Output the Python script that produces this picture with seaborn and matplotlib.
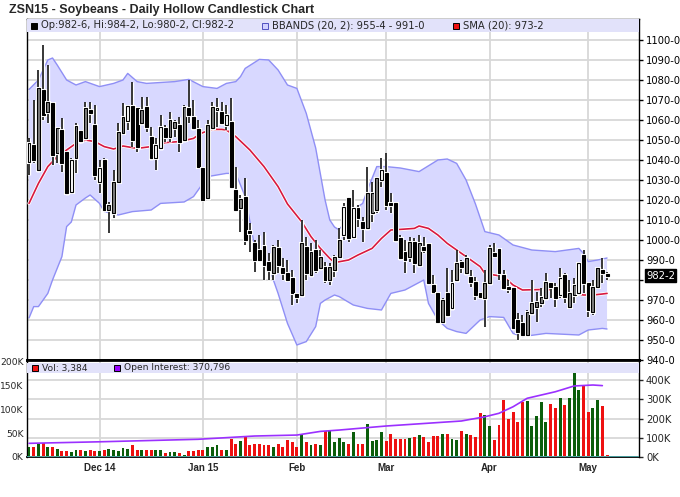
import numpy as np
import pandas as pd
import seaborn as sns
import matplotlib
matplotlib.use('Agg')
import matplotlib.pyplot as plt
import matplotlib.patheffects as pe
from matplotlib.patches import Rectangle

sns.set_style('white')
plt.rcParams['font.family'] = 'DejaVu Sans'

# trading days shown (Nov 7 2014 - May 7 2015)
holidays = ['2014-11-27', '2014-12-25', '2015-01-01', '2015-01-19', '2015-02-16', '2015-04-03']
days = pd.bdate_range('2014-11-07', '2015-05-07')
days = days[~days.isin(pd.to_datetime(holidays))]
month_labels = ['Dec 14', 'Jan 15', 'Feb', 'Mar', 'Apr', 'May']

opens = [1039.2, 1047.5, 1035.0, 1075.0, 1064.2, 1068.3, 1043.3, 1055.0, 1044.2, 1024.2,
         1040.8, 1054.7, 1050.8, 1065.0, 1057.5, 1029.2, 1040.0, 1015.0, 1013.3, 1029.2,
         1053.7, 1059.7, 1067.0, 1065.8, 1058.3, 1066.3, 1051.7, 1040.8, 1045.8, 1055.8,
         1051.7, 1055.8, 1057.5, 1050.0, 1065.8, 1061.3, 1055.3, 1035.8, 1020.8, 1055.8,
         1065.0, 1064.2, 1057.5, 1059.2, 1025.0, 1015.8, 1021.7, 1004.7, 998.3, 995.0,
         997.0, 989.2, 983.3, 995.8, 986.2, 983.3, 980.8, 973.0, 972.5, 996.7,
         982.5, 995.0, 985.8, 986.7, 980.0, 985.0, 991.7, 1002.5, 1020.8, 1001.7,
         1015.8, 1009.2, 1005.8, 1013.3, 1015.0, 1030.0, 1033.7, 1018.3, 1018.3, 1000.8,
         994.2, 991.7, 999.2, 987.5, 996.7, 998.0, 977.5, 973.3, 959.2, 973.3,
         965.8, 980.0, 989.2, 983.3, 981.7, 979.2, 973.3, 970.8, 978.3, 993.7,
         995.3, 982.5, 976.3, 975.8, 960.0, 958.3, 952.5, 963.3, 966.7, 968.3,
         970.8, 978.3, 976.7, 972.5, 982.5, 966.7, 972.5, 973.3, 992.5, 978.3,
         964.2, 976.7, 985.0, 982.75]
highs = [1050.8, 1070.0, 1085.0, 1097.5, 1087.5, 1069.2, 1056.7, 1060.8, 1044.2, 1040.8,
         1058.3, 1055.0, 1069.2, 1069.2, 1067.5, 1040.0, 1040.8, 1019.2, 1035.0, 1058.3,
         1068.3, 1067.5, 1079.2, 1066.7, 1071.7, 1071.7, 1056.7, 1050.8, 1062.5, 1057.5,
         1064.2, 1060.0, 1061.7, 1067.5, 1080.0, 1070.0, 1060.0, 1036.5, 1060.0, 1069.2,
         1070.8, 1069.2, 1067.5, 1070.8, 1036.7, 1022.5, 1030.8, 1008.3, 1000.0, 1002.5,
         1004.2, 993.3, 997.5, 1000.0, 990.8, 990.0, 985.0, 973.3, 1010.0, 1001.7,
         998.3, 1000.0, 995.0, 989.2, 988.3, 992.5, 1005.8, 1018.3, 1021.7, 1025.0,
         1017.5, 1011.7, 1036.7, 1029.2, 1031.7, 1040.8, 1043.3, 1023.3, 1019.2, 1002.5,
         1000.0, 1001.7, 1000.8, 1002.5, 1001.7, 998.3, 982.5, 974.0, 970.8, 985.8,
         985.0, 995.0, 990.0, 992.5, 985.0, 981.7, 974.2, 985.0, 997.5, 998.3,
         995.8, 985.0, 980.0, 976.7, 963.3, 962.5, 965.0, 980.0, 974.2, 975.8,
         983.3, 979.2, 978.3, 985.8, 983.3, 980.0, 980.8, 989.2, 995.0, 979.0,
         980.0, 986.7, 990.8, 984.25]
lows = [1032.5, 1038.3, 1034.2, 1060.0, 1058.3, 1037.5, 1038.3, 1034.2, 1022.5, 1023.5,
        1033.3, 1048.3, 1050.0, 1058.3, 1030.0, 1023.3, 1014.2, 1003.3, 1010.8, 1028.3,
        1053.3, 1055.0, 1046.7, 1044.2, 1057.5, 1054.2, 1040.0, 1035.0, 1045.0, 1049.2,
        1049.2, 1051.7, 1044.2, 1049.2, 1058.3, 1055.0, 1035.8, 1019.5, 1020.0, 1055.0,
        1056.7, 1057.5, 1055.0, 1026.0, 1014.2, 1004.2, 997.5, 994.2, 984.2, 989.2,
        980.0, 980.0, 980.0, 983.3, 980.0, 979.5, 967.5, 968.3, 971.7, 980.0,
        981.7, 983.3, 985.0, 978.3, 977.5, 981.7, 991.0, 1000.0, 999.2, 1001.0,
        1006.7, 999.2, 1005.0, 1009.2, 1013.3, 1026.7, 1015.0, 1013.3, 999.2, 990.0,
        983.3, 989.2, 983.3, 986.7, 993.3, 977.5, 973.3, 958.5, 958.3, 961.7,
        965.0, 979.2, 983.3, 982.5, 976.7, 970.0, 970.8, 956.7, 977.5, 991.7,
        980.0, 975.0, 973.3, 955.0, 950.0, 951.7, 951.7, 962.5, 959.2, 966.7,
        970.0, 970.8, 966.7, 970.8, 968.3, 966.0, 968.3, 972.5, 973.3, 961.7,
        962.5, 975.8, 978.3, 980.25]
closes = [1048.3, 1040.0, 1075.8, 1062.5, 1069.2, 1042.5, 1055.8, 1038.3, 1023.3, 1040.0,
          1057.0, 1049.7, 1065.8, 1063.7, 1032.5, 1035.8, 1015.0, 1017.5, 1029.2, 1054.2,
          1061.3, 1067.0, 1050.0, 1046.7, 1065.0, 1056.7, 1040.8, 1047.5, 1056.3, 1051.7,
          1060.0, 1059.2, 1049.2, 1066.3, 1062.5, 1055.8, 1036.7, 1020.0, 1057.5, 1066.7,
          1065.8, 1058.3, 1062.5, 1026.7, 1015.0, 1020.3, 1000.0, 1003.3, 990.0, 990.0,
          987.5, 985.0, 996.7, 987.5, 983.3, 980.0, 973.3, 971.7, 998.3, 983.3,
          994.2, 985.0, 991.7, 980.0, 986.7, 991.7, 1000.0, 1016.7, 1000.8, 1015.8,
          1010.8, 1005.8, 1023.3, 1023.7, 1030.8, 1035.0, 1017.5, 1017.5, 1000.0, 990.8,
          990.0, 999.2, 988.3, 998.3, 995.0, 978.3, 974.2, 959.2, 970.0, 962.5,
          978.3, 988.3, 986.7, 990.8, 979.2, 972.5, 971.7, 978.3, 995.8, 992.0,
          983.3, 975.8, 975.3, 955.8, 954.2, 952.5, 964.2, 968.3, 969.2, 971.7,
          979.2, 976.7, 970.8, 980.8, 971.7, 973.3, 977.5, 988.3, 978.3, 965.0,
          976.7, 985.8, 983.3, 982.25]
# body look: b = filled black, g = grey, w = hollow
body_style = ("wbgbgbgbbw" "gbgbbwbggg" "gwbbgbbwwb" "ggbgbbbbgg" "wbwbbgbbbb" "bbgbbbbbgb"
              "gbgbgggwbw" "bbgggwbbbb" "bgbgbbbbgb" "wgbgbbbggb" "bbbbbbgggg" "gbbwbggwbb" "ggbb")

# volume in thousands of contracts
volume = [20, 22, 27, 29, 22, 21, 17, 12, 13, 10.5, 14, 15, 13, 15, 12, 12, 14, 17, 15, 13,
          18, 17, 26, 15, 15, 14, 15, 15, 14, 8, 10.5, 10.5, 8, 5, 13, 13, 15, 15, 20, 22,
          25, 15, 15, 38, 27, 33, 43, 25, 28, 28, 26, 26, 21, 27, 21, 36, 31, 22, 46, 31,
          26, 28, 25, 55, 55, 31, 40, 31.6, 28.1, 51.9, 28.1, 28.1, 70.2, 33.0, 36.5, 51.9,
          33.0, 49.1, 38.6, 38.6, 37.9, 40.0, 41.4, 47.0, 42.1, 30.9, 44.9, 44.9, 48.4, 48.4,
          37.9, 35.1, 55.4, 49.1, 45.6, 42.1, 92.6, 89.1, 66.0, 35.1, 68.1, 119.3, 80.7, 94.0,
          73.0, 115.8, 118.6, 66.0, 87.0, 115.1, 73.0, 112.3, 103.2, 124.2, 110.2, 124.2, 192.3,
          141.8, 152.3, 94.7, 103.2, 120.7, 106.7, 3.384]

# open interest (thousands), sampled by trading day number
oi_day = [0, 15, 36, 48, 57, 62, 66, 76, 92, 97, 100, 103, 106, 112, 116, 120, 122]
oi_val = [71, 79, 92, 109, 114, 133, 140, 161, 187, 209, 227, 261, 305, 339, 369, 374, 370.8]

# Bollinger (20, 2) and SMA(20), sampled by trading day number
bb_up_day = [0, 2, 4, 5, 6, 8, 10, 12, 15, 18, 20, 21, 23, 25, 31, 34, 37, 40, 42, 44, 45, 46,
             49, 51, 53, 55, 57, 59, 61, 62, 63, 64, 65, 66, 69, 71, 72, 74, 76, 79, 83, 87,
             89, 91, 93, 95, 97, 100, 103, 107, 112, 117, 118, 119, 121, 123]
bb_up_val = [1075.3, 1080, 1090, 1091, 1087.5, 1080, 1077.5, 1079.2, 1076.7, 1078.3, 1080,
             1083.3, 1079.2, 1078.3, 1079.2, 1080.3, 1076.7, 1075.8, 1078.3, 1079.2, 1081.7,
             1085.8, 1090.3, 1090, 1085, 1077.5, 1075.8, 1063.3, 1046, 1033, 1020, 1010, 1006.5,
             1005, 1015, 1018.3, 1025, 1036.7, 1036.7, 1036, 1034.2, 1040, 1040.5, 1038.3, 1030,
             1018, 1004.2, 1002.5, 997.5, 995, 994.2, 995.8, 993.3, 989.2, 990, 991]
bb_lo_day = [0, 1, 2, 4, 5, 7, 8, 9, 10, 12, 13, 15, 16, 19, 22, 26, 28, 33, 35, 36, 38, 40,
             42, 44, 46, 48, 51, 53, 55, 57, 59, 61, 62, 63, 65, 66, 69, 72, 75, 76, 77, 80,
             82, 84, 85, 87, 89, 91, 93, 96, 98, 101, 103, 105, 110, 117, 119, 122, 123]
bb_lo_val = [961, 966.7, 966.7, 973.3, 980, 991.7, 1006.7, 1009, 1017.5, 1021, 1022.5, 1018.3,
             1014.2, 1012.5, 1014.2, 1015, 1018.3, 1019, 1021.7, 1025, 1031.7, 1032.5, 1033.3,
             1033.3, 1021.7, 996.7, 986.7, 973.3, 958.3, 947.5, 949.2, 956.7, 968.3, 970, 972.5,
             971.7, 967.5, 965.8, 965, 969.2, 973.3, 975, 977.5, 980, 968.3, 960, 955.8, 954.2,
             953.3, 960, 961.7, 961.3, 953.3, 951.7, 953.3, 952.5, 955, 955.8, 955.5]
sma_day = [0, 2, 4, 6, 8, 10, 12, 14, 16, 18, 20, 23, 26, 29, 32, 35, 36, 37, 39, 41, 42, 44,
           47, 50, 53, 55, 58, 60, 62, 64, 65, 68, 70, 73, 75, 77, 79, 82, 83, 85, 87, 89, 91,
           93, 96, 97, 99, 101, 103, 105, 110, 113, 116, 118, 120, 122, 123]
sma_val = [1018.3, 1028.3, 1036.7, 1041.7, 1045, 1048.3, 1050, 1049.2, 1046.7, 1045.5, 1047,
           1045.8, 1046.7, 1048.7, 1049.2, 1050.8, 1052.5, 1053.7, 1055.3, 1055.3, 1055, 1051.7,
           1045, 1036.7, 1026.7, 1018, 1009.2, 1001.7, 995.8, 990.8, 988.7, 990, 992.5, 995.8,
           1000.8, 1005, 1005.3, 1005.8, 1007, 1005.8, 1002.5, 998.3, 995, 991.7, 986.7, 983.3,
           982.5, 981.7, 977.5, 975, 975.3, 974.7, 973.3, 972.5, 972.5, 973, 973.3]

# ---------------------------------------------------------------
W, H = 680, 497
fig = plt.figure(figsize=(W / 100, H / 100), dpi=100)
price_rect = [27 / W, 1 - 360 / H, 612 / W, 341 / H]
vol_rect = [27 / W, 1 - 457 / H, 612 / W, 97 / H]
ax = fig.add_axes(price_rect)
axo = fig.add_axes(vol_rect, zorder=1)
axb = fig.add_axes(vol_rect, zorder=2)
axl = fig.add_axes(vol_rect, zorder=3)

x = np.arange(len(days))
xlim = (-0.43, 129.8)
month_pos = [i for i in range(1, len(days)) if days[i].month != days[i - 1].month]
grid_c = '#d8d8d8'
halo = [pe.withStroke(linewidth=2.4, foreground='white')]

# price panel ---------------------------------------------------
ax.fill(np.r_[bb_up_day, bb_lo_day[::-1]], np.r_[bb_up_val, bb_lo_val[::-1]],
        color='#d8d8ff', lw=0, zorder=1)
sns.lineplot(x=bb_up_day, y=bb_up_val, ax=ax, color='#8f8ff5', lw=1, zorder=2)
sns.lineplot(x=bb_lo_day, y=bb_lo_val, ax=ax, color='#8f8ff5', lw=1, zorder=2)
sma_line = sns.lineplot(x=sma_day, y=sma_val, ax=ax, color='#d8183f', lw=1.2, zorder=3)
sma_line.lines[-1].set_path_effects(halo)

o = np.array(opens); c = np.array(closes)
ax.vlines(x, lows, highs, colors='black', lw=1.1, zorder=4, path_effects=halo)
fills = {'b': 'black', 'g': '#7f7f7f', 'w': 'white'}
bot = np.minimum(o, c)
hgt = np.maximum(np.abs(c - o), 0.7)
bars = ax.bar(x, hgt, bottom=bot, width=0.62, color=[fills[s] for s in body_style],
              edgecolor='black', lw=0.8, zorder=5)
for p in bars:
    p.set_path_effects([pe.withStroke(linewidth=2.2, foreground='white')])

ax.set_xlim(xlim)
ax.set_ylim(940, 1110.5)
ax.set_xticks(month_pos)
ax.set_xticklabels([])
ax.tick_params(axis='x', length=0)
ax.yaxis.tick_right()
yt = np.arange(940, 1101, 10)
ax.set_yticks(yt)
# the 980 label sits under the last-price tag
ax.set_yticklabels(['' if v == 980 else f'{v}-0' for v in yt], fontsize=7.2)
ax.tick_params(axis='y', direction='out', length=3, width=1, pad=2, colors='black')
ax.grid(True, color=grid_c, lw=1.3, zorder=0)
ax.set_axisbelow(True)
for s in ax.spines.values():
    s.set_color('black'); s.set_linewidth(1)
ax.spines['bottom'].set_linewidth(2)

# legend strip
ax.add_patch(Rectangle((0, 1 - 13 / 341), 1, 13 / 341, transform=ax.transAxes,
                       facecolor='#e2e2fa', edgecolor='none', zorder=6))
ly = 1 - 6.5 / 341
sq_w, sq_h = 6 / 612, 6 / 341
legend_items = [(4, 'black', 'black', 'Op:982-6, Hi:984-2, Lo:980-2, Cl:982-2'),
                (235, '#d0d0ff', '#5050c0', 'BBANDS (20, 2): 955-4 - 991-0'),
                (426, '#ee1111', 'black', 'SMA (20): 973-2')]
for px, fc, ec, txt in legend_items:
    ax.add_patch(Rectangle((px / 612, ly - sq_h / 2), sq_w, sq_h, transform=ax.transAxes,
                           facecolor=fc, edgecolor=ec, lw=0.7, zorder=7))
    ax.text((px + 10) / 612, ly, txt, transform=ax.transAxes, fontsize=7.2,
            va='center', ha='left', zorder=7)

# last price tag
ax.annotate('982-2', xy=(1, closes[-1]), xycoords=('axes fraction', 'data'),
            xytext=(5, 0), textcoords='offset points', va='center', ha='left',
            fontsize=7.2, color='white',
            bbox=dict(boxstyle='square,pad=0.12', fc='black', ec='black'))

# volume panel --------------------------------------------------
oi_top = 503.9
vol_top = 204.2
axo.set_xlim(xlim); axo.set_ylim(0, oi_top)
axo.set_xticks(month_pos)
axo.set_xticklabels(month_labels, fontfamily='Liberation Sans', fontweight='bold', fontsize=7)
axo.tick_params(axis='x', length=0, pad=4)
axo.yaxis.tick_right()
ot = [0, 100, 200, 300, 400]
axo.set_yticks(ot)
axo.set_yticklabels([f'{v}K' for v in ot], fontsize=7.2)
axo.tick_params(axis='y', direction='out', length=3, width=1, pad=2)
axo.grid(True, color=grid_c, lw=1.3)
for s in axo.spines.values():
    s.set_color('black'); s.set_linewidth(1)
axo.spines['top'].set_linewidth(2)
axo.spines['bottom'].set_linewidth(1.3)

vol_colors = ['#0b5e0b' if cc >= oo else '#ee1111' for oo, cc in zip(opens, closes)]
axb.bar(x, volume, width=0.62, color=vol_colors, lw=0)
axb.axhline(0, color='#50b4b4', lw=1.2)
axb.set_xlim(xlim); axb.set_ylim(0, vol_top)
vt = [0, 50, 100, 150, 200]
axb.set_yticks(vt)
axb.set_yticklabels([f'{v}K' for v in vt], fontsize=6.6)
axb.tick_params(axis='y', direction='out', length=2, width=1, pad=0.5)
axb.set_xticks([])
axb.patch.set_visible(False)
for s in axb.spines.values():
    s.set_visible(False)

sns.lineplot(x=oi_day, y=oi_val, ax=axl, color='#9b30ff', lw=1.2)
axl.set_xlim(xlim); axl.set_ylim(0, oi_top)
axl.set_xticks([]); axl.set_yticks([])
axl.patch.set_visible(False)
for s in axl.spines.values():
    s.set_visible(False)

axl.add_patch(Rectangle((0, 1 - 13 / 97), 1, 10 / 97, transform=axl.transAxes,
                        facecolor='#e2e2fa', edgecolor='none', zorder=6))
vy = 1 - 8 / 97
for px, fc, txt in [(5, '#ee1111', 'Vol: 3,384'), (87, '#9900ff', 'Open Interest: 370,796')]:
    axl.add_patch(Rectangle((px / 612, vy - 3 / 97), 6 / 612, 6 / 97, transform=axl.transAxes,
                            facecolor=fc, edgecolor='black', lw=0.7, zorder=7))
    axl.text((px + 10) / 612, vy, txt, transform=axl.transAxes, fontsize=6.6,
             va='center', ha='left', zorder=7)

for a in (ax, axo, axb, axl):
    a.set_xlabel(''); a.set_ylabel('')

fig.text(9 / W, 1 - 10 / H, 'ZSN15 - Soybeans - Daily Hollow Candlestick Chart',
         fontfamily='Liberation Sans', fontweight='bold', fontsize=9, va='center', ha='left')

fig.savefig('out.png', dpi=100, facecolor='white')
